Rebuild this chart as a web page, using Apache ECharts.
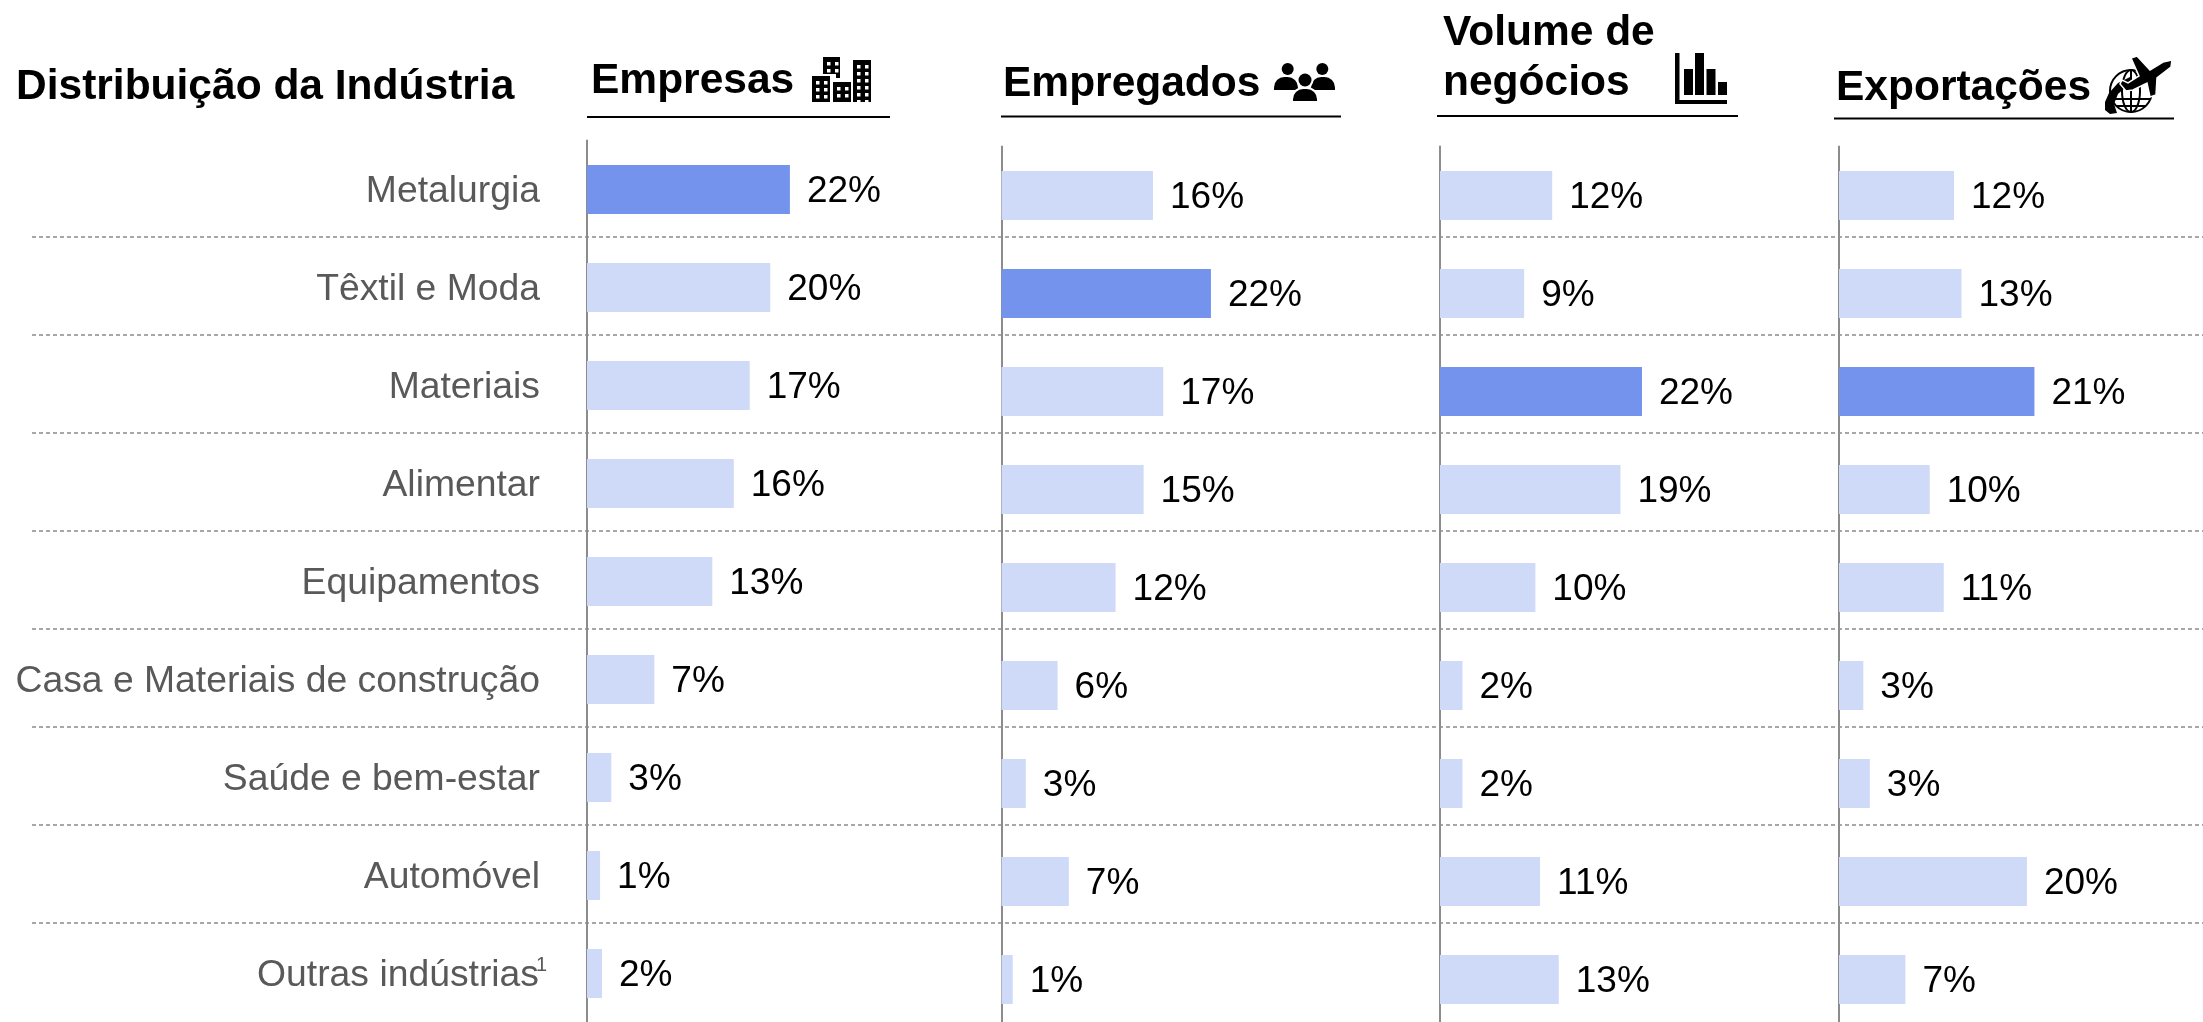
<!DOCTYPE html>
<html>
<head>
<meta charset="utf-8">
<style>
  html, body { margin: 0; background: #fff; height: 1022px; overflow: hidden; }
  /* taller than the window so the last rows of the lower panels keep their size */
  #chart { width: 2203px; height: 1060px; }
</style>
<script src="https://cdn.jsdelivr.net/npm/echarts@6/dist/echarts.min.js"></script>
</head>
<body>
<div id="chart"></div>
<script>
const categories = ['Metalurgia', 'Têxtil e Moda', 'Materiais', 'Alimentar', 'Equipamentos',
  'Casa e Materiais de construção', 'Saúde e bem-estar', 'Automóvel', 'Outras indústrias']

// bar lengths, the labels show them rounded
const empresas = [21.7, 19.6, 17.4, 15.7, 13.4, 7.2, 2.6, 1.4, 1.6]
const empregados = [16.2, 22.4, 17.3, 15.2, 12.2, 6.0, 2.6, 7.2, 1.2]
const volume = [12.0, 9.0, 21.6, 19.3, 10.2, 2.4, 2.4, 10.7, 12.7]
const exportacoes = [12.3, 13.1, 20.9, 9.7, 11.2, 2.6, 3.3, 20.1, 7.1]

const HIGHLIGHT = '#7393EC'
const LIGHT = '#CFDAF8'
const FONT = '"Liberation Sans", Arial, sans-serif'

const panels = [
  {name: 'Empresas', values: empresas, left: 587, top: 140.5},
  {name: 'Empregados', values: empregados, left: 1001.5, top: 146.5},
  {name: 'Volume', values: volume, left: 1440, top: 146.5},
  {name: 'Exportações', values: exportacoes, left: 1839, top: 146.5}
]

// px per percent is kept the same in every panel
const AXIS_MAX = 30
const PANEL_W = 280.5
const ROWS_H = 882

let grids = [{left: 32, top: 139, width: 2171, height: ROWS_H}]
let xAxes = [{gridIndex: 0, type: 'value', show: false}]
let yAxes = [{
  gridIndex: 0,
  type: 'category',
  inverse: true,
  data: categories,
  axisLine: {show: false},
  axisTick: {show: false},
  axisLabel: {show: false},
  splitLine: {
    show: true,
    interval: 0,
    showMinLine: false,
    showMaxLine: false,
    lineStyle: {color: '#8a8a8a', type: [4, 3], width: 1.5}
  }
}]
let series = []

panels.forEach((p, i) => {
  const idx = i + 1
  grids.push({left: p.left, top: p.top, width: PANEL_W, height: ROWS_H})
  xAxes.push({gridIndex: idx, type: 'value', min: 0, max: AXIS_MAX, show: false})
  yAxes.push({
    gridIndex: idx,
    type: 'category',
    inverse: true,
    data: categories,
    axisLine: {show: true, lineStyle: {color: '#8c8c8c', width: 2}},
    axisTick: {show: false},
    splitLine: {show: false},
    axisLabel: {
      show: i === 0,
      interval: 0,
      margin: 40,
      padding: [5, 0, 0, 0],
      fontFamily: FONT,
      formatter: v => v === 'Outras indústrias' ? '{a|' + v + '}{s|1}' : '{a|' + v + '}{p|}',
      rich: {
        a: {color: '#595959', fontSize: 37.3, fontFamily: FONT, lineHeight: 42},
        s: {color: '#595959', fontSize: 20, fontFamily: FONT, verticalAlign: 'top', lineHeight: 20, width: 8},
        p: {width: 7}
      }
    }
  })
  const top = Math.max(...p.values)
  series.push({
    name: p.name,
    type: 'bar',
    xAxisIndex: idx,
    yAxisIndex: idx,
    barWidth: 49,
    silent: true,
    animation: false,
    data: p.values.map(v => ({value: v, itemStyle: {color: v === top ? HIGHLIGHT : LIGHT}})),
    label: {
      show: true,
      position: 'right',
      distance: 17,
      offset: [0, 2],
      color: '#000',
      fontSize: 37,
      fontFamily: FONT,
      formatter: o => Math.round(o.value) + '%'
    }
  })
})

function head(text, x, y) {
  return {
    type: 'text',
    x: x,
    y: y,
    style: {text: text, fontFamily: FONT, fontSize: 42.5, fontWeight: 'bold', fill: '#000', lineHeight: 50, verticalAlign: 'top'}
  }
}

function rule(x1, x2, y) {
  return {type: 'line', shape: {x1: x1, y1: y, x2: x2, y2: y}, style: {stroke: '#000', lineWidth: 2}}
}

function box(x, y, w, h, fill) {
  return {type: 'rect', shape: {x: x, y: y, width: w, height: h}, style: {fill: fill || '#000'}}
}

function dot(cx, cy, r, fill) {
  return {type: 'circle', shape: {cx: cx, cy: cy, r: r}, style: {fill: fill || '#000'}}
}

// a block with white windows
function building(x, y, w, h, rows) {
  let out = [box(x, y, w, h)]
  const gap = 7
  for (let r = 0; r < rows; r++) {
    for (let c = 0; c < 2; c++) {
      out.push(box(x + 4 + c * (gap + 1), y + 5 + r * gap, 3.5, 3.5, '#fff'))
    }
  }
  return out
}

function body(x, y, w, h, extra) {
  return {
    type: 'rect',
    shape: {x: x, y: y, width: w, height: h, r: [h * 0.8, h * 0.8, 0, 0]},
    style: {fill: '#000', ...extra}
  }
}

function poly(points, style) {
  return {type: 'polygon', shape: {points: points}, style: style}
}

const iconBuildings = [
  ...building(823, 57, 17, 17, 2),
  box(836, 74, 4, 4),
  ...building(812, 76, 18, 26, 3),
  ...building(833, 82, 18, 20, 2),
  ...building(853, 60, 18, 42, 6)
]

const iconPeople = [
  dot(1287.7, 69, 6),
  dot(1322.3, 69, 6),
  body(1274, 77, 24, 13),
  body(1311, 77, 24, 13),
  dot(1305, 80, 8.5, '#fff'),
  dot(1305, 80, 6.5),
  body(1292, 88, 26, 14, {stroke: '#fff', lineWidth: 2})
]

const iconBars = [
  box(1675, 53, 4.5, 51),
  box(1675, 100, 52, 4),
  box(1684, 69, 9, 26),
  box(1695, 53, 9, 42),
  box(1706.5, 69, 9, 26),
  box(1718, 82, 9, 13)
]

const globeLine = {stroke: '#000', lineWidth: 2, fill: null}
const iconPlane = [
  {type: 'circle', shape: {cx: 2131, cy: 91, r: 21}, style: globeLine},
  {type: 'ellipse', shape: {cx: 2131, cy: 91, rx: 9, ry: 21}, style: globeLine},
  {type: 'line', shape: {x1: 2112, y1: 99, x2: 2150, y2: 99}, style: globeLine},
  {type: 'line', shape: {x1: 2116, y1: 106, x2: 2146, y2: 106}, style: globeLine},
  {type: 'line', shape: {x1: 2131, y1: 70, x2: 2131, y2: 112}, style: globeLine},
  // swoosh round the left of the globe
  poly([[2130, 77], [2118, 83], [2109, 93], [2105, 102], [2105, 110], [2110, 114], [2117, 113],
    [2114, 104], [2118, 94], [2127, 86], [2134, 82]], {fill: '#000'}),
  // plane, white rim keeps it apart from the globe
  poly([[2172, 60], [2163, 62], [2150, 70], [2137, 56], [2131, 58], [2139, 76], [2128, 83], [2122, 80],
    [2120, 84], [2126, 91], [2133, 90], [2147, 83], [2150, 97], [2156, 95], [2157, 78], [2171, 67]],
    {fill: '#000', stroke: '#fff', lineWidth: 1.5})
]

const chart = echarts.init(document.getElementById('chart'))
chart.setOption({
  backgroundColor: '#fff',
  animation: false,
  grid: grids,
  xAxis: xAxes,
  yAxis: yAxes,
  series: series,
  graphic: [
    head('Distribuição da Indústria', 16, 62),
    head('Empresas', 591, 56),
    head('Empregados', 1003, 59),
    head('Volume de\nnegócios', 1443, 8),
    head('Exportações', 1836, 63),
    rule(587, 890, 117),
    rule(1001, 1341, 116.5),
    rule(1437, 1738, 116),
    rule(1834, 2174, 118.5),
    ...iconBuildings,
    ...iconPeople,
    ...iconBars,
    ...iconPlane
  ]
})
</script>
</body>
</html>
